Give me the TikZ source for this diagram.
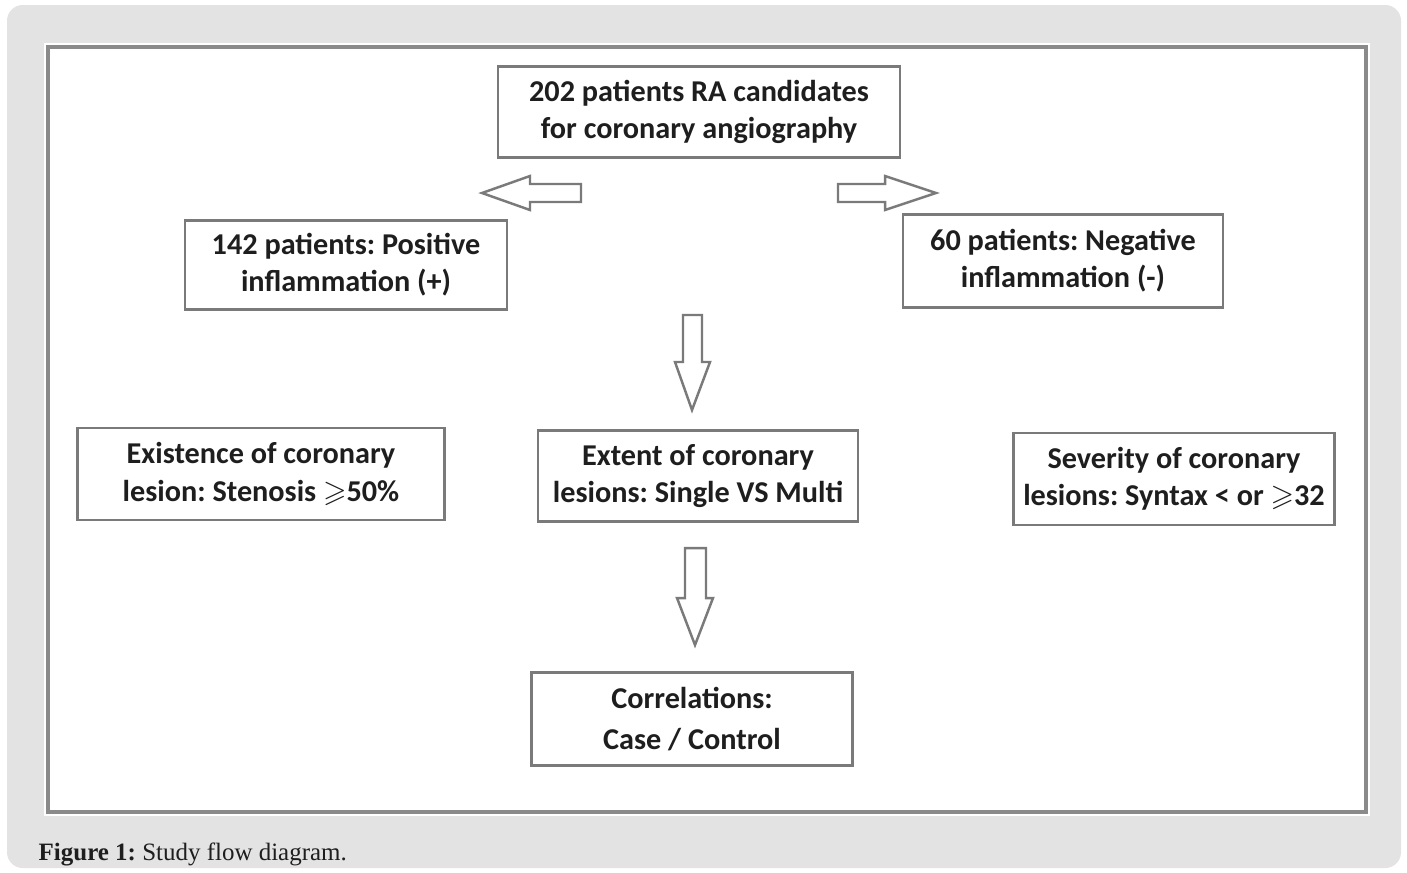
\documentclass[tikz,border=0pt]{standalone}
\usepackage{amssymb}
\usepackage{fontspec}
\setmainfont{Liberation Serif}
\setsansfont{Carlito}
\usetikzlibrary{positioning}
\frenchspacing

\definecolor{panelgray}{HTML}{E3E3E3}
\definecolor{framegray}{HTML}{8A8A8A}
\definecolor{boxgray}{HTML}{7A7A7A}
\definecolor{inkgray}{HTML}{1E1E1E}

\begin{document}
\begin{tikzpicture}[
        x=0.01cm,
        y=-0.01cm,
        box/.style={draw=boxgray, line width=0.75pt, fill=white,
            text=inkgray, align=center,
            font=\sffamily\bfseries\fontsize{8.6}{10.6}\selectfont,
            inner sep=0pt},
        hollow/.style={draw=boxgray, line width=0.7pt, fill=white, line join=miter}
        ]
    \useasboundingbox (0,0) rectangle (1407,872);
    % background panel and frame
    \fill[white] (0,0) rectangle (1407,872);
    \fill[panelgray, rounded corners=4.5pt] (7,5) rectangle (1401,868);
    \fill[white] (44,43) rectangle (1370,816);
    \draw[framegray, line width=0.9pt] (48,47) rectangle (1366,812);

    % boxes
    \node[box, minimum width=4.02cm, minimum height=0.91cm] (TOP) at (699,112)
        {202 patients RA candidates\\for coronary angiography};
    \node[box, minimum width=3.22cm, minimum height=0.89cm] (POS) at (346,265)
        {142 patients: Positive\\inflammation (+)};
    \node[box, minimum width=3.20cm, minimum height=0.93cm] (NEG) at (1063,261)
        {60 patients: Negative\\inflammation (-)};
    \node[box, minimum width=3.67cm, minimum height=0.92cm] (EXIST) at (261,474)
        {Existence of coronary\\lesion: Stenosis $\geqslant$50\%};
    \node[box, minimum width=3.20cm, minimum height=0.91cm] (EXTENT) at (698,476)
        {Extent of coronary\\lesions: Single VS Multi};
    \node[box, minimum width=3.21cm, minimum height=0.92cm] (SEVER) at (1174,479)
        {Severity of coronary\\lesions: Syntax < or $\geqslant$32};
    \node[box, minimum width=3.21cm, minimum height=0.93cm] (CORR) at (692,719)
        {Correlations:\\[1pt]Case / Control};

    % block arrows
    \draw[hollow] (581,184) -- (530,184) -- (530,176) -- (482,193)
        -- (530,210) -- (530,202) -- (581,202) -- cycle;
    \draw[hollow] (838,184) -- (885,184) -- (885,176) -- (936,193)
        -- (885,210) -- (885,202) -- (838,202) -- cycle;
    \draw[hollow] (683,315) -- (702,315) -- (702,362) -- (710,362)
        -- (692,410) -- (675,362) -- (683,362) -- cycle;
    \draw[hollow] (685,548) -- (706,548) -- (706,598) -- (713,598)
        -- (695,645) -- (677,598) -- (685,598) -- cycle;

    % caption
    \node[anchor=base west, inner sep=0pt, text=inkgray,
        font=\fontsize{7.1}{8.5}\selectfont] (CAP) at (38,860)
        {\textbf{Figure 1:} Study flow diagram.};
\end{tikzpicture}
\end{document}
